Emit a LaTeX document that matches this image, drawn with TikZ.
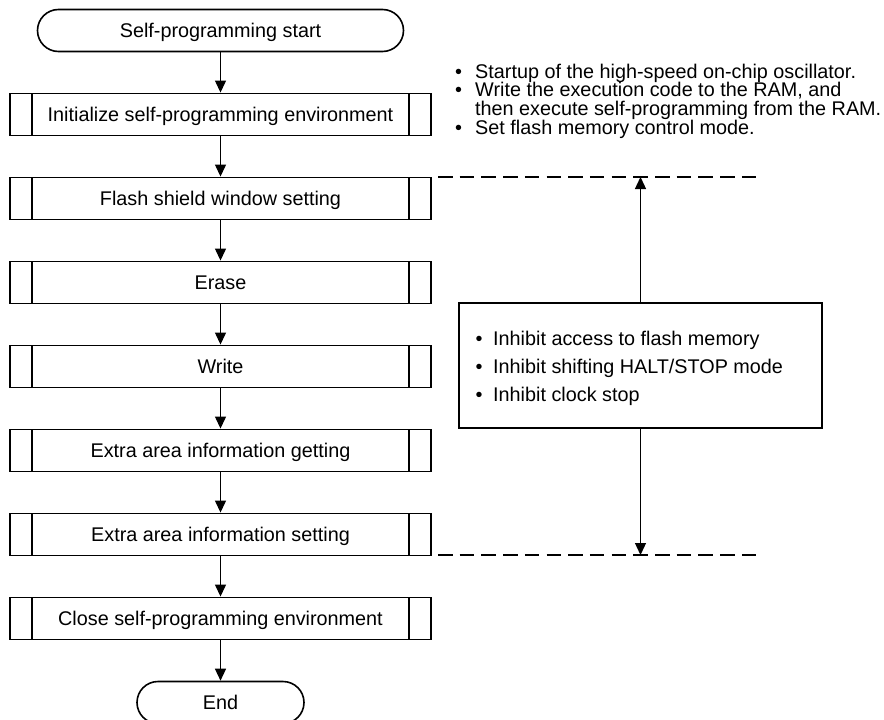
\documentclass[tikz,border=0pt]{standalone}
\usepackage{fontspec}
\setmainfont{Liberation Sans}
\usetikzlibrary{arrows.meta}
\begin{document}
\begin{tikzpicture}[x=1pt,y=-1pt,
  base/.style={font=\fontsize{19.8}{18.3}\selectfont},
  term/.style={draw, line width=1.6pt, rounded corners=21pt, minimum height=42pt,
    inner sep=0pt, text height=14.2pt, text depth=0pt, base},
  proc/.style={draw, line width=1.9pt, minimum width=421pt, minimum height=42pt,
    inner sep=0pt, text height=14.2pt, text depth=0pt, base,
    path picture={
      \draw[line width=1.9pt]
        ([xshift=22pt]path picture bounding box.north west) --
        ([xshift=22pt]path picture bounding box.south west)
        ([xshift=-22pt]path picture bounding box.north east) --
        ([xshift=-22pt]path picture bounding box.south east);
    }},
  flow/.style={line width=1.3pt, -{Triangle[length=12pt,width=11pt]}},
  limit/.style={line width=1.6pt, dash pattern=on 14.5pt off 7.2pt},
  note/.style={base, anchor=base west, inner sep=0pt},
  panel/.style={draw, line width=1.5pt, inner sep=0pt},
]
\useasboundingbox (0,0) rectangle (884,720);

% main flow
\node[term, minimum width=366pt] (start) at (220.5,30.5) {Self-programming start};
\node[proc] (init)  at (220.5,114.5) {Initialize self-programming environment};
\node[proc] (flash) at (220.5,198.5) {Flash shield window setting};
\node[proc] (erase) at (220.5,282.5) {Erase};
\node[proc] (write) at (220.5,366.5) {Write};
\node[proc] (get)   at (220.5,450.5) {Extra area information getting};
\node[proc] (set)   at (220.5,534.5) {Extra area information setting};
\node[proc] (close) at (220.5,618.5) {Close self-programming environment};
\node[term, minimum width=167pt] (end) at (220.5,702.5) {End};

\draw[flow] (start.south) -- (init.north);
\draw[flow] (init.south)  -- (flash.north);
\draw[flow] (flash.south) -- (erase.north);
\draw[flow] (erase.south) -- (write.north);
\draw[flow] (write.south) -- (get.north);
\draw[flow] (get.south)   -- (set.north);
\draw[flow] (set.south)   -- (close.north);
\draw[flow] (close.south) -- (end.north);

% notes at top right
\node[note] (n1)  at (454.8,78.3)  {\textbullet\hspace{13.3pt}Startup of the high-speed on-chip oscillator.};
\node[note] (n2)  at (454.8,96.7)  {\textbullet\hspace{13.3pt}Write the execution code to the RAM, and};
\node[note] (n2b) at (475,115)     {then execute self-programming from the RAM.};
\node[note] (n3)  at (454.8,134)   {\textbullet\hspace{13.3pt}Set flash memory control mode.};

% limits
\coordinate (dtl) at (438,177);
\coordinate (dtr) at (763,177);
\coordinate (dbl) at (438,555);
\coordinate (dbr) at (763,555);
\coordinate (atop) at (640.5,177);
\coordinate (abot) at (640.5,555);
\draw[limit] (dtl) -- (dtr);
\draw[limit] (dbl) -- (dbr);

\node[panel, minimum width=363pt, minimum height=125pt] (inh) at (640.5,365.5) {};
\draw[flow] (inh.north) -- (atop);
\draw[flow] (inh.south) -- (abot);

\node[note] (i1) at (475.5,345) {\textbullet\hspace{10.6pt}Inhibit access to flash memory};
\node[note] (i2) at (475.5,373) {\textbullet\hspace{10.6pt}Inhibit shifting HALT/STOP mode};
\node[note] (i3) at (475.5,401) {\textbullet\hspace{10.6pt}Inhibit clock stop};
\end{tikzpicture}
\end{document}
